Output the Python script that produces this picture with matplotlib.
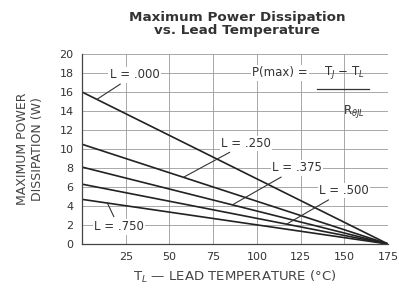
import matplotlib
matplotlib.use('Agg')
import numpy as np
import matplotlib.pyplot as plt

plt.rcParams['font.family'] = ['DejaVu Sans']

# 数据：各引线长度对应的曲线（0°C 时的功耗，175°C 时为 0）
temps = [0, 175]
lead_lengths = ['.000', '.250', '.375', '.500', '.750']
p_at_zero = [16.0, 10.5, 8.1, 6.3, 4.7]

# 标注位置（文字中心，箭头指向的温度）
label_xy = [(30, 17.8), (94, 10.6), (123, 8.0), (150, 5.6), (21, 1.8)]
arrow_t = [8.5, 58, 86, 117, 14.5]

fig = plt.figure(figsize=(3.99, 2.91), dpi=100)
ax = fig.add_axes([0.2055, 0.1615, 0.767, 0.653])

for p0 in p_at_zero:
    ax.plot(temps, [p0, 0], color='#222222', lw=1.2)

for name, p0, (tx, ty), at in zip(lead_lengths, p_at_zero, label_xy, arrow_t):
    py = p0 * (1 - at / 175)
    ax.annotate('L = ' + name, xy=(at, py), xytext=(tx, ty),
                fontsize=8.5, color='#333333', ha='center', va='center',
                bbox=dict(boxstyle='square,pad=0.1', fc='white', ec='none'),
                arrowprops=dict(arrowstyle='-', color='#333333', lw=0.8,
                                shrinkA=2, shrinkB=0))

# 公式
ax.text(0.556, 0.9, 'P(max) =', transform=ax.transAxes, fontsize=8.5,
        color='#333333', ha='left', va='center',
        bbox=dict(boxstyle='square,pad=0.1', fc='white', ec='none'))
ax.text(0.856, 0.9, r'T$_J$ $-$ T$_L$', transform=ax.transAxes, fontsize=8.5,
        color='#333333', ha='center', va='center')
ax.plot([0.768, 0.938], [0.816, 0.816], transform=ax.transAxes, color='#333333', lw=0.9)
ax.text(0.889, 0.695, r'R$_{\theta JL}$', transform=ax.transAxes, fontsize=8.5,
        color='#333333', ha='center', va='center')

ax.set_xlim(0, 175)
ax.set_ylim(0, 20)
ax.set_xticks(range(25, 176, 25))
ax.set_yticks(range(0, 21, 2))
ax.tick_params(labelsize=8, colors='#333333', length=0, pad=6)
ax.grid(True, color='#9a9a9a', lw=0.6)
for s in ['top', 'right']:
    ax.spines[s].set_visible(False)
for s in ['left', 'bottom']:
    ax.spines[s].set_color('#444444')
    ax.spines[s].set_linewidth(0.9)

ax.set_xlabel(r'T$_L$ — LEAD TEMPERATURE (°C)', fontsize=9.5, color='#444444', labelpad=5)
ax.set_ylabel('MAXIMUM POWER\nDISSIPATION (W)', fontsize=9, color='#444444', labelpad=11)

fig.text(0.594, 0.917, 'Maximum Power Dissipation\nvs. Lead Temperature',
         fontsize=9.7, fontweight='bold', color='#333333', ha='center', va='center',
         linespacing=1.05)

fig.savefig('out.png', dpi=100)
